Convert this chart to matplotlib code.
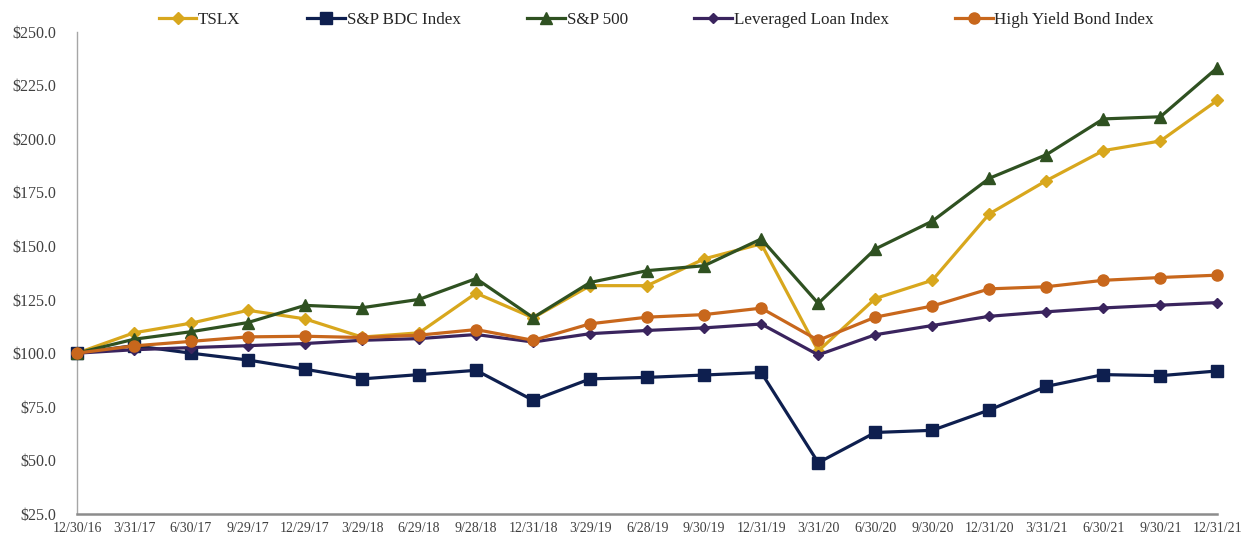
import matplotlib
matplotlib.use("Agg")
import matplotlib.pyplot as plt
from matplotlib.ticker import FuncFormatter

dates = ["12/30/16", "3/31/17", "6/30/17", "9/29/17", "12/29/17", "3/29/18", "6/29/18",
         "9/28/18", "12/31/18", "3/29/19", "6/28/19", "9/30/19", "12/31/19", "3/31/20",
         "6/30/20", "9/30/20", "12/31/20", "3/31/21", "6/30/21", "9/30/21", "12/31/21"]

tslx = [100.0, 109.5, 114.0, 120.0, 116.0, 107.5, 109.5, 128.0, 116.5, 131.5, 131.5,
        144.0, 151.0, 101.0, 125.5, 134.0, 165.0, 180.5, 194.5, 199.0, 218.0]
bdc = [100.0, 103.5, 100.0, 96.8, 92.5, 88.0, 90.0, 92.0, 78.0, 88.0, 88.7,
       89.8, 91.0, 48.9, 63.0, 64.0, 73.5, 84.5, 90.0, 89.5, 91.7]
sp500 = [100.0, 106.5, 110.0, 114.3, 122.3, 121.2, 125.1, 134.8, 116.6, 133.0, 138.5,
         140.8, 153.3, 123.2, 148.6, 161.6, 181.6, 192.6, 209.3, 210.3, 233.2]
lev_loan = [100.0, 101.6, 102.6, 103.5, 104.5, 106.0, 106.8, 108.7, 105.2, 109.1, 110.6,
            111.8, 113.6, 99.2, 108.6, 112.9, 117.2, 119.3, 121.1, 122.4, 123.6]
hy_bond = [100.0, 103.4, 105.5, 107.6, 107.9, 107.3, 108.4, 111.0, 106.0, 113.7, 116.8,
           118.0, 121.0, 106.0, 116.8, 122.0, 130.0, 131.0, 134.0, 135.3, 136.4]

series = [
    ("TSLX", tslx, "#D8A71D", "D", 6),
    ("S&P BDC Index", bdc, "#0E1F4F", "s", 8),
    ("S&P 500", sp500, "#2F5121", "^", 8),
    ("Leveraged Loan Index", lev_loan, "#3A245E", "D", 5.5),
    ("High Yield Bond Index", hy_bond, "#C8671C", "o", 8),
]

serif = ["Liberation Serif", "DejaVu Serif"]

fig = plt.figure(figsize=(12.41, 5.37), dpi=100)
ax = fig.add_axes([0.062, 0.043, 0.919, 0.898])

x = list(range(len(dates)))
for name, vals, color, marker, ms in series:
    ax.plot(x, vals, color=color, linewidth=2.3, marker=marker, markersize=ms,
            markerfacecolor=color, markeredgecolor=color, label=name, clip_on=False,
            zorder=3)

ax.set_xlim(0, len(dates) - 1)
ax.set_ylim(25, 250)
ax.set_yticks([25, 50, 75, 100, 125, 150, 175, 200, 225, 250])
ax.yaxis.set_major_formatter(FuncFormatter(lambda v, p: f"${v:.1f}"))
ax.set_xticks(x)
ax.set_xticklabels(dates)

for lbl in ax.get_yticklabels():
    lbl.set_fontfamily(serif)
    lbl.set_fontsize(11.5)
    lbl.set_color("#404040")
for lbl in ax.get_xticklabels():
    lbl.set_fontfamily(serif)
    lbl.set_fontsize(10)
    lbl.set_color("#404040")

ax.tick_params(axis="y", length=0, pad=15)
ax.tick_params(axis="x", length=0, pad=6)

for side in ("top", "right"):
    ax.spines[side].set_visible(False)
ax.spines["left"].set_color("#A6A6A6")
ax.spines["left"].set_linewidth(1.0)
ax.spines["bottom"].set_color("#8C8C8C")
ax.spines["bottom"].set_linewidth(1.8)

leg = fig.legend(loc="center", bbox_to_anchor=(0.529, 0.963), ncol=5, frameon=False,
                 prop={"family": serif, "size": 12.3}, handlelength=2.2,
                 handletextpad=0.1, columnspacing=3.9)
for t in leg.get_texts():
    t.set_color("#262626")

fig.savefig("out.png", dpi=100)
